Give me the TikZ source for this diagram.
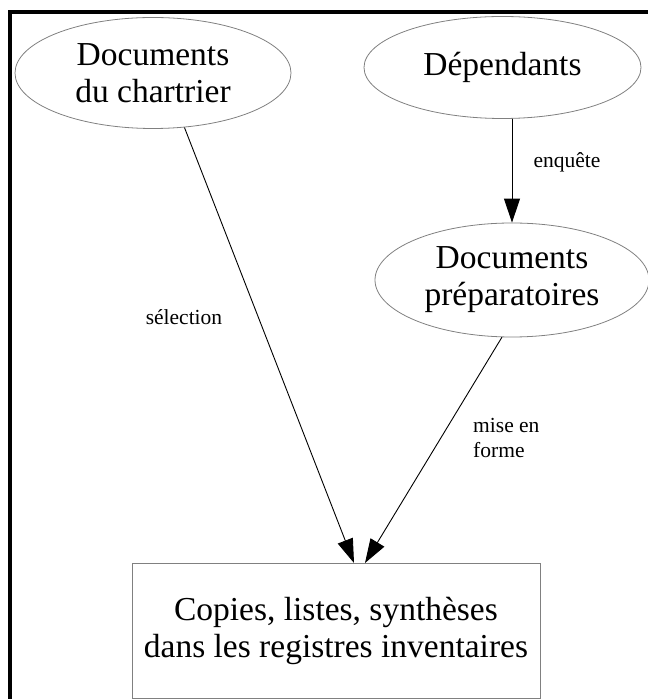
\documentclass[tikz,border=0pt]{standalone}
\usepackage{fontspec}
\setmainfont{Liberation Serif}
\usetikzlibrary{shapes.geometric,arrows.meta}
\begin{document}
\begin{tikzpicture}[x=1pt,y=1pt,
  ell/.style={ellipse,draw=black!50,line width=0.8pt,inner sep=0pt,align=center,
    font=\fontsize{33.5}{37}\selectfont},
  boxn/.style={rectangle,draw=black!50,line width=0.8pt,inner sep=0pt,align=center,
    font=\fontsize{33.5}{37}\selectfont},
  conn/.style={draw=black,line width=0.9pt,-{Triangle[length=24pt,width=16pt]}},
  lbl/.style={font=\fontsize{21.5}{25}\selectfont,inner sep=0pt,align=left}]
\useasboundingbox (0,0) rectangle (648,699);
% frame
\draw[line width=4pt,line join=miter] (9.5,-10) -- (9.5,687) -- (660,687);
% nodes
\node[ell,minimum width=276pt,minimum height=111pt] (e1) at (153,626) {Documents\\du chartrier};
\node[ell,minimum width=277pt,minimum height=102pt] (dep) at (502.5,631.5) {Dépendants};
\node[ell,minimum width=274pt,minimum height=114pt] (prep) at (512,419) {Documents\\préparatoires};
\node[boxn,minimum width=408pt,minimum height=135pt] (box) at (336,68.5) {Copies, listes, synthèses\\dans les registres inventaires};
% arrow end points on the box
\coordinate (t1) at (354,136);
\coordinate (t2) at (365,136);
% edges
\draw[conn] (e1.-60) -- (t1);
\draw[conn] (dep.south -| prep.north) -- (prep.north);
\draw[conn] (prep.-100) -- (t2);
% labels
\node[lbl,anchor=base] (l1) at (184,374) {sélection};
\node[lbl,anchor=base] (l2) at (567,531) {enquête};
\node[lbl,anchor=west] (l3) at (473,261) {mise en\\forme};
\end{tikzpicture}
\end{document}
